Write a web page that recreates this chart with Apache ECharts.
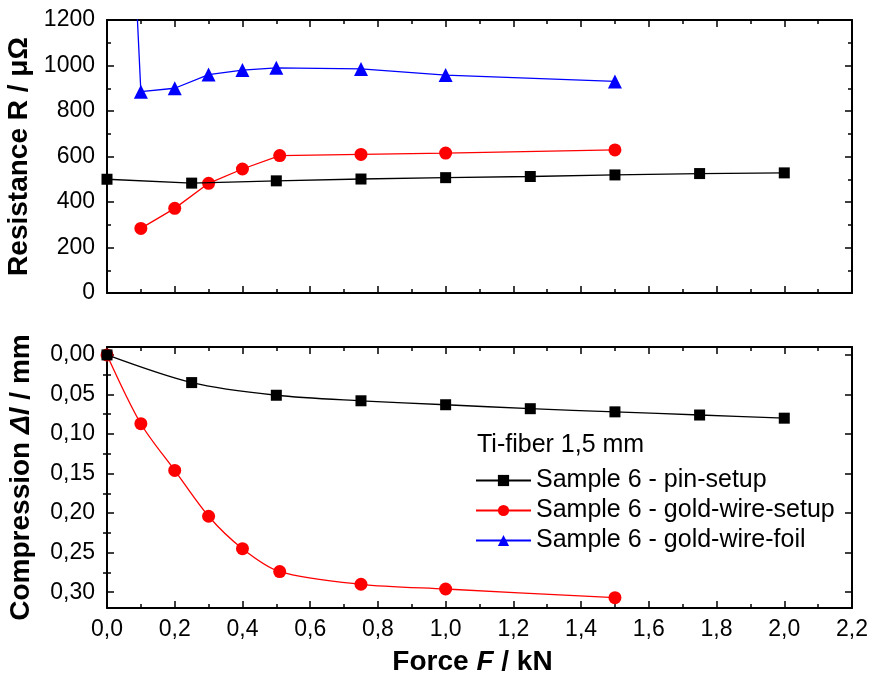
<!DOCTYPE html>
<html>
<head>
<meta charset="utf-8">
<script src="https://cdn.jsdelivr.net/npm/echarts@6/dist/echarts.min.js"></script>
<style>
html,body{margin:0;padding:0;background:#fff;}
#chart{width:877px;height:679px;}
</style>
</head>
<body>
<div id="chart"></div>
<script>
// ---- data ----
const forcePin = [0, 0.25, 0.5, 0.75, 1.0, 1.25, 1.5, 1.75, 2.0];
const resPin = [500, 483, 493, 501, 507, 512, 519, 525, 528];
const compPin = [0, 0.035, 0.051, 0.058, 0.063, 0.068, 0.072, 0.076, 0.080];

const forceGoldR = [0.1, 0.2, 0.3, 0.4, 0.51, 0.75, 1.0, 1.5];
const resGold = [284, 372, 482, 545, 604, 609, 615, 629];
const forceGoldC = [0, 0.1, 0.2, 0.3, 0.4, 0.51, 0.75, 1.0, 1.5];
const compGold = [0, 0.087, 0.146, 0.204, 0.245, 0.274, 0.290, 0.296, 0.307];

const forceFoil = [0, 0.1, 0.2, 0.3, 0.4, 0.5, 0.75, 1.0, 1.5];
const resFoil = [4000, 885, 900, 960, 980, 990, 985, 958, 930];

const compMajorTicks = [0, 0.05, 0.10, 0.15, 0.20, 0.25, 0.30];
const compMinorTicks = [0.025, 0.075, 0.125, 0.175, 0.225, 0.275];

const seriesNames = ['Sample 6 - pin-setup', 'Sample 6 - gold-wire-setup', 'Sample 6 - gold-wire-foil'];
const legendTitle = 'Ti-fiber 1,5 mm';

// ---- helpers ----
const pairs = (xs, ys) => xs.map((x, i) => [x, ys[i]]);
const FONT = '"Liberation Sans", Arial, sans-serif';

function xAx(grid, pos, labels) {
  return {
    type: 'value', gridIndex: grid, position: pos, min: 0, max: 2.2, interval: 0.2,
    axisLine: {show: true, onZero: false, lineStyle: {color: '#000', width: 2}},
    axisTick: {show: true, inside: true, length: 7, lineStyle: {color: '#000', width: 1.5}},
    minorTick: {show: true, splitNumber: 2, length: 4, lineStyle: {color: '#000', width: 1.5}},
    axisLabel: {show: labels, fontSize: 23, color: '#000', fontFamily: FONT, margin: 10,
      formatter: v => v.toFixed(1).replace('.', ',')},
    splitLine: {show: false}
  };
}

const chart = echarts.init(document.getElementById('chart'), null, {renderer: 'canvas'});

const option = {
  backgroundColor: '#fff',
  animation: false,
  grid: [
    {left: 107, right: 25, top: 20, height: 273, containLabel: false, outerBoundsMode: 'none'},
    {left: 107, right: 25, top: 347, height: 261, containLabel: false, outerBoundsMode: 'none'}
  ],
  title: {
    text: legendTitle, left: 472, top: 428,
    textStyle: {fontSize: 25, fontWeight: 'normal', color: '#000', fontFamily: FONT}
  },
  legend: {
    data: seriesNames, orient: 'vertical', left: 470, top: 463,
    itemWidth: 55, itemHeight: 14, itemGap: 5,
    textStyle: {fontSize: 25, color: '#000', fontFamily: FONT}
  },
  xAxis: [
    xAx(0, 'bottom', false),
    xAx(0, 'top', false),
    Object.assign(xAx(1, 'bottom', true), {
      name: '{b|Force }{bi|F}{b| / kN}', nameLocation: 'middle', nameGap: 40,
      nameTextStyle: {padding: [0, 14, 0, 0], rich: {
        b: {fontSize: 28, fontWeight: 'bold', fontFamily: FONT, color: '#000'},
        bi: {fontSize: 28, fontWeight: 'bold', fontStyle: 'italic', fontFamily: FONT, color: '#000'}
      }}
    }),
    xAx(1, 'top', false)
  ],
  yAxis: [
    {
      type: 'value', gridIndex: 0, position: 'left', min: 0, max: 1200, interval: 200,
      axisLine: {show: true, onZero: false, lineStyle: {color: '#000', width: 2}},
      axisTick: {show: true, inside: true, length: 7, lineStyle: {color: '#000', width: 1.5}},
      minorTick: {show: true, splitNumber: 2, length: 4, lineStyle: {color: '#000', width: 1.5}},
      axisLabel: {fontSize: 23, color: '#000', fontFamily: FONT, margin: 12, formatter: v => String(v)},
      splitLine: {show: false},
      name: 'Resistance R / \u03bc\u03a9', nameLocation: 'middle', nameGap: 72,
      nameTextStyle: {fontSize: 28, fontWeight: 'bold', color: '#000', fontFamily: FONT}
    },
    {
      type: 'value', gridIndex: 0, position: 'right', min: 0, max: 1200, interval: 200,
      axisLine: {show: true, onZero: false, lineStyle: {color: '#000', width: 2}},
      axisTick: {show: true, inside: true, length: 7, lineStyle: {color: '#000', width: 1.5}},
      minorTick: {show: true, splitNumber: 2, length: 4, lineStyle: {color: '#000', width: 1.5}},
      axisLabel: {show: false}, splitLine: {show: false}
    },
    {
      type: 'value', gridIndex: 1, position: 'left', min: -0.01, max: 0.32, inverse: true,
      axisLine: {show: true, onZero: false, lineStyle: {color: '#000', width: 2}},
      axisTick: {show: true, inside: true, length: 7, customValues: compMajorTicks, lineStyle: {color: '#000', width: 1.5}},
      axisLabel: {fontSize: 23, color: '#000', fontFamily: FONT, margin: 12, customValues: compMajorTicks,
        formatter: v => v.toFixed(2).replace('.', ',')},
      splitLine: {show: false},
      name: '{b|Compression }{bi|\u0394l}{b| / mm}', nameLocation: 'middle', nameGap: 72,
      nameTextStyle: {rich: {
        b: {fontSize: 28, fontWeight: 'bold', fontFamily: FONT, color: '#000'},
        bi: {fontSize: 28, fontWeight: 'bold', fontStyle: 'italic', fontFamily: FONT, color: '#000'}
      }}
    },
    {
      type: 'value', gridIndex: 1, position: 'right', min: -0.01, max: 0.32, inverse: true,
      axisLine: {show: true, onZero: false, lineStyle: {color: '#000', width: 2}},
      axisTick: {show: true, inside: true, length: 7, customValues: compMajorTicks, lineStyle: {color: '#000', width: 1.5}},
      axisLabel: {show: false}, splitLine: {show: false}
    },
    {
      type: 'value', gridIndex: 1, position: 'left', min: -0.01, max: 0.32, inverse: true,
      axisLine: {show: false},
      axisTick: {show: true, inside: true, length: 4, customValues: compMinorTicks, lineStyle: {color: '#000', width: 1.5}},
      axisLabel: {show: false}, splitLine: {show: false}
    },
    {
      type: 'value', gridIndex: 1, position: 'right', min: -0.01, max: 0.32, inverse: true,
      axisLine: {show: false},
      axisTick: {show: true, inside: true, length: 4, customValues: compMinorTicks, lineStyle: {color: '#000', width: 1.5}},
      axisLabel: {show: false}, splitLine: {show: false}
    }
  ],
  series: [
    {
      name: seriesNames[0], type: 'line', xAxisIndex: 0, yAxisIndex: 0,
      data: pairs(forcePin, resPin), symbol: 'rect', symbolSize: 11,
      itemStyle: {color: '#000'}, lineStyle: {color: '#000', width: 1.3}, z: 3
    },
    {
      name: seriesNames[1], type: 'line', xAxisIndex: 0, yAxisIndex: 0,
      data: pairs(forceGoldR, resGold), symbol: 'circle', symbolSize: 13,
      itemStyle: {color: '#ff0000'}, lineStyle: {color: '#ff0000', width: 1.3}, z: 2
    },
    {
      name: seriesNames[2], type: 'line', xAxisIndex: 0, yAxisIndex: 0,
      data: pairs(forceFoil, resFoil).map((p, i) => i === 0 ? {value: p, symbol: 'none'} : p),
      symbol: 'triangle', symbolSize: 14, clip: true,
      itemStyle: {color: '#0000ff'}, lineStyle: {color: '#0000ff', width: 1.3}, z: 2
    },
    {
      name: seriesNames[0], type: 'line', xAxisIndex: 2, yAxisIndex: 2,
      data: pairs(forcePin, compPin), symbol: 'rect', symbolSize: 11, smooth: 0.3,
      itemStyle: {color: '#000'}, lineStyle: {color: '#000', width: 1.3}, z: 3
    },
    {
      name: seriesNames[1], type: 'line', xAxisIndex: 2, yAxisIndex: 2,
      data: pairs(forceGoldC, compGold), symbol: 'circle', symbolSize: 13, smooth: 0.3,
      itemStyle: {color: '#ff0000'}, lineStyle: {color: '#ff0000', width: 1.3}, z: 2
    }
  ]
};
chart.setOption(option);
</script>
</body>
</html>
